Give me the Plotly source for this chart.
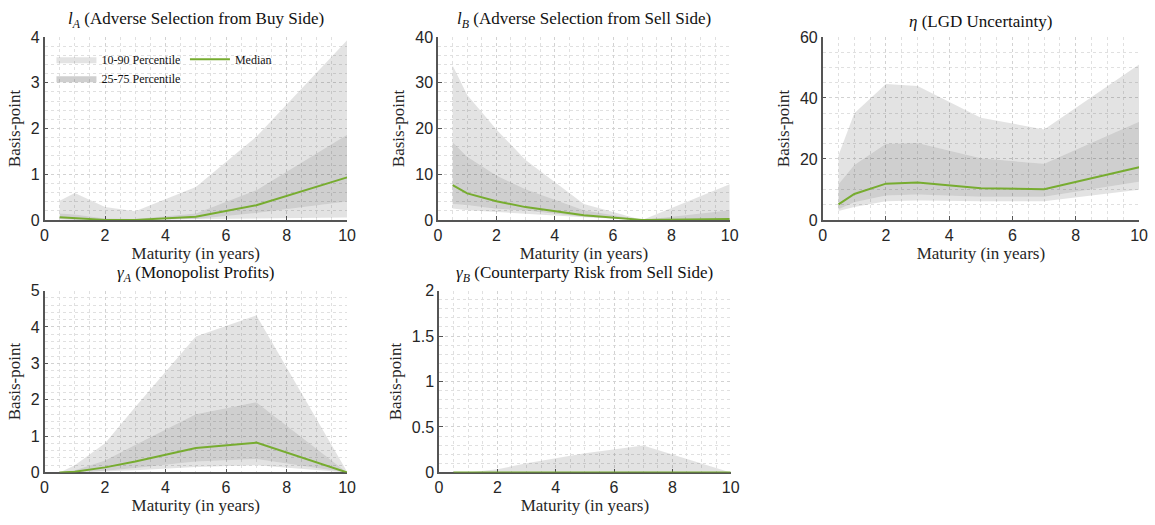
import plotly.graph_objects as go

maturity = [0.5, 1, 2, 3, 5, 7, 10]

# l_A
la_p10 = [0.01, 0.0, 0.0, 0.0, 0.01, 0.03, 0.05]
la_p25 = [0.02, 0.01, 0.0, 0.0, 0.02, 0.15, 0.40]
la_med = [0.06, 0.04, 0.0, 0.0, 0.07, 0.32, 0.93]
la_p75 = [0.14, 0.12, 0.03, 0.02, 0.14, 0.65, 1.86]
la_p90 = [0.42, 0.59, 0.28, 0.19, 0.72, 1.82, 3.93]

# l_B
lb_p10 = [2.5, 2.1, 1.6, 1.3, 0.6, 0.0, 0.0]
lb_p25 = [3.5, 3.2, 2.5, 2.0, 0.7, 0.0, 0.0]
lb_med = [7.6, 5.8, 4.1, 2.8, 1.0, 0.0, 0.2]
lb_p75 = [17.0, 13.8, 9.7, 6.7, 2.1, 0.0, 2.1]
lb_p90 = [33.8, 27.3, 19.8, 13.1, 3.5, 0.0, 7.8]

# eta
eta_p10 = [2.9, 4.2, 6.1, 6.4, 6.1, 6.1, 9.9]
eta_p25 = [3.5, 5.8, 8.0, 8.3, 7.6, 7.6, 12.5]
eta_med = [5.1, 8.5, 11.9, 12.3, 10.4, 10.1, 17.3]
eta_p75 = [11.7, 18.0, 25.0, 25.2, 20.2, 18.4, 32.2]
eta_p90 = [21.2, 35.0, 44.6, 43.9, 33.5, 29.7, 51.0]

# gamma_A
ga_p10 = [0.0, 0.0, 0.02, 0.06, 0.15, 0.20, 0.0]
ga_p25 = [0.0, 0.01, 0.05, 0.12, 0.30, 0.37, 0.0]
ga_med = [0.0, 0.02, 0.14, 0.30, 0.67, 0.82, 0.0]
ga_p75 = [0.0, 0.06, 0.33, 0.75, 1.60, 1.93, 0.0]
ga_p90 = [0.0, 0.20, 0.80, 1.80, 3.74, 4.32, 0.02]

# gamma_B
gb_p10 = [0.0, 0.0, 0.0, 0.0, 0.0, 0.0, 0.0]
gb_p25 = [0.0, 0.0, 0.0, 0.0, 0.0, 0.0, 0.0]
gb_med = [0.0, 0.0, 0.0, 0.0, 0.0, 0.0, 0.0]
gb_p75 = [0.0, 0.0, 0.0, 0.0, 0.005, 0.01, 0.0]
gb_p90 = [0.0, 0.0, 0.035, 0.10, 0.21, 0.295, 0.0]

titles = [
    "<i>l<sub>A</sub></i> (Adverse Selection from Buy Side)",
    "<i>l<sub>B</sub></i> (Adverse Selection from Sell Side)",
    "<i>η</i> (LGD Uncertainty)",
    "<i>γ<sub>A</sub></i> (Monopolist Profits)",
    "<i>γ<sub>B</sub></i> (Counterparty Risk from Sell Side)",
]
x_ticks = [0, 2, 4, 6, 8, 10]
y_ranges = [[0, 4], [0, 40], [0, 60], [0, 5], [0, 2]]
y_dticks = [1, 10, 20, 1, 0.5]
y_minor = [0.2, 2, 5, 0.2, 0.1]

panels = [
    (la_p10, la_p25, la_med, la_p75, la_p90),
    (lb_p10, lb_p25, lb_med, lb_p75, lb_p90),
    (eta_p10, eta_p25, eta_med, eta_p75, eta_p90),
    (ga_p10, ga_p25, ga_med, ga_p75, ga_p90),
    (gb_p10, gb_p25, gb_med, gb_p75, gb_p90),
]

W, H = 1155, 525
# pixel boxes (left, right, top, bottom)
boxes = [
    (41, 347, 30, 219),
    (439, 734, 30, 219),
    (828, 1148, 30, 219),
    (41, 347, 292, 480),
    (440, 735, 292, 480),
]

LIGHT = "rgba(0,0,0,0.11)"
DARK = "rgba(0,0,0,0.19)"
GREEN = "#77AC30"
SERIF = "'Liberation Serif', 'Times New Roman', 'DejaVu Serif', serif"
SANS = "'Liberation Sans', Arial, sans-serif"

fig = go.Figure()
layout = {}
annotations = []

for i, (p10, p25, med, p75, p90) in enumerate(panels):
    n = "" if i == 0 else str(i + 1)
    xa, ya = "x" + n, "y" + n
    rev = maturity[::-1]
    light_x = maturity + rev + [None] + maturity + rev
    light_y = p90 + p75[::-1] + [None] + p25 + p10[::-1]
    fig.add_trace(go.Scatter(
        x=light_x, y=light_y, fill="toself", fillcolor=LIGHT,
        line=dict(width=0), mode="lines", name="10-90 Percentile",
        showlegend=(i == 0), legend="legend", xaxis=xa, yaxis=ya,
        hoverinfo="skip"))
    fig.add_trace(go.Scatter(
        x=maturity + rev, y=p75 + p25[::-1], fill="toself", fillcolor=DARK,
        line=dict(width=0), mode="lines", name="25-75 Percentile",
        showlegend=(i == 0), legend="legend", xaxis=xa, yaxis=ya,
        hoverinfo="skip"))
    fig.add_trace(go.Scatter(
        x=maturity, y=med, mode="lines", line=dict(color=GREEN, width=2),
        name="Median", showlegend=(i == 0), legend="legend2",
        xaxis=xa, yaxis=ya, cliponaxis=False))

    l, r, t, b = boxes[i]
    xdom = [l / W, r / W]
    ydom = [1 - b / H, 1 - t / H]
    axis_common = dict(
        showline=True, linecolor="#555555", linewidth=1.5,
        ticks="inside", ticklen=4, tickcolor="#555555", tickwidth=1,
        showgrid=True, gridcolor="#d2d2d2", griddash="dot", gridwidth=1,
        tickfont=dict(family=SANS, size=16, color="#262626"),
        zeroline=False, layer="below traces",
    )
    layout["xaxis" + n] = dict(
        axis_common, domain=xdom, range=[0, 10], tickvals=x_ticks,
        anchor=ya,
        minor=dict(dtick=0.5, tick0=0, showgrid=True, gridcolor="#e0e0e0",
                   griddash="dot", gridwidth=1, ticks=""),
        title=dict(text="Maturity (in years)",
                   font=dict(family=SERIF, size=17, color="#262626"),
                   standoff=4),
    )
    layout["yaxis" + n] = dict(
        axis_common, domain=ydom, range=y_ranges[i], dtick=y_dticks[i],
        tick0=0, anchor=xa,
        minor=dict(dtick=y_minor[i], tick0=0, showgrid=True,
                   gridcolor="#e0e0e0", griddash="dot", gridwidth=1, ticks=""),
        title=dict(text="Basis-point",
                   font=dict(family=SERIF, size=17, color="#262626"),
                   standoff=6),
    )
    annotations.append(dict(
        text=titles[i], xref="paper", yref="paper",
        x=(xdom[0] + xdom[1]) / 2, y=ydom[1], xanchor="center",
        yanchor="bottom", yshift=4, showarrow=False,
        font=dict(family=SERIF, size=17, color="#111111")))

fig.update_layout(
    **layout,
    annotations=annotations,
    width=W, height=H,
    margin=dict(l=0, r=0, t=0, b=0),
    paper_bgcolor="white", plot_bgcolor="white",
    legend=dict(x=48 / W, y=1 - 38 / H, xanchor="left", yanchor="top",
                bgcolor="rgba(0,0,0,0)", tracegroupgap=0,
                font=dict(family=SERIF, size=12, color="#111111"),
                itemwidth=40),
    legend2=dict(x=183 / W, y=1 - 38 / H, xanchor="left", yanchor="top",
                 bgcolor="rgba(0,0,0,0)",
                 font=dict(family=SERIF, size=12, color="#111111"),
                 itemwidth=40),
)

fig.write_html("out.html")
